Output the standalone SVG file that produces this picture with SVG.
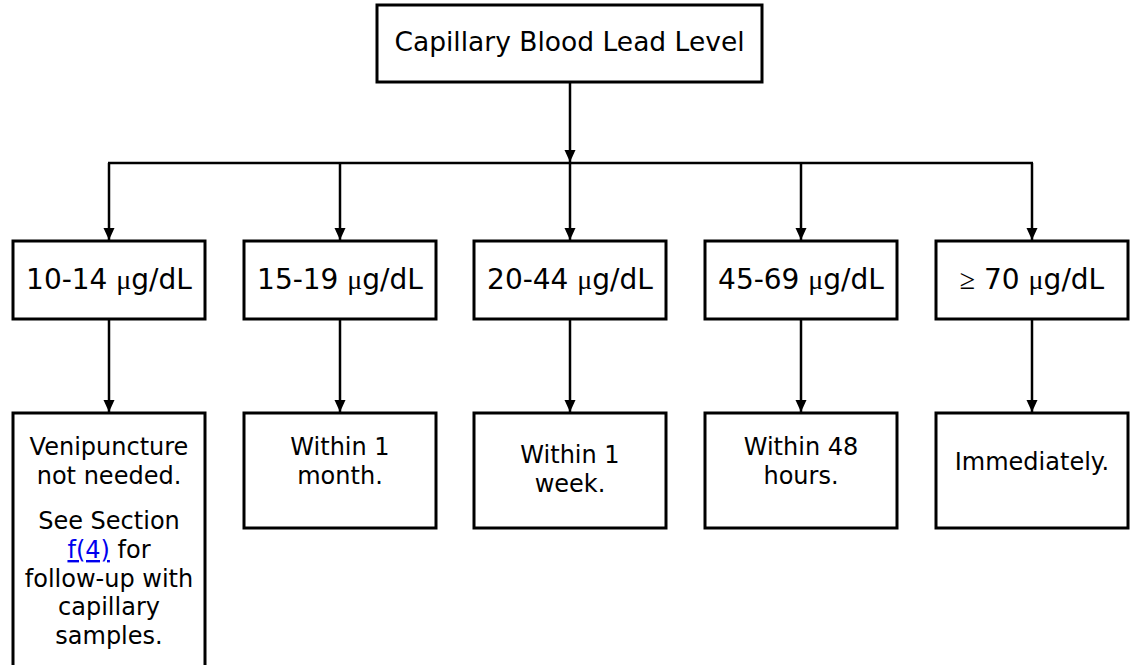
<svg xmlns="http://www.w3.org/2000/svg" width="1130" height="665" viewBox="0 0 1130 665">
<defs>
<style>
.box{fill:#fff;stroke:#000;stroke-width:3}
.t{font-family:"DejaVu Sans",Verdana,sans-serif;fill:#000;text-anchor:middle}
.top{font-size:26.5px}
.lvl{font-size:28px}
.mu{font-family:"Liberation Serif",serif}
.bot{font-size:24px}
.link{fill:#0000ee;text-decoration:underline}
.ln{stroke:#000;stroke-width:2.5;fill:none}
.arr{stroke:#000;stroke-width:2.5;fill:none;marker-end:url(#ah)}
</style>
<marker id="ah" markerUnits="userSpaceOnUse" markerWidth="12" markerHeight="12" refX="12" refY="6" orient="auto" viewBox="0 0 12 12">
<path d="M0,0.5 L12,6 L0,11.5 z" fill="#000"/>
</marker>
</defs>
<g id="connectors">
<line class="arr" x1="570" y1="82" x2="570" y2="162"/>
<line class="ln" x1="108" y1="163" x2="1033" y2="163"/>
<line class="arr" x1="109" y1="163" x2="109" y2="240"/>
<line class="arr" x1="340" y1="163" x2="340" y2="240"/>
<line class="arr" x1="570" y1="163" x2="570" y2="240"/>
<line class="arr" x1="801" y1="163" x2="801" y2="240"/>
<line class="arr" x1="1032" y1="163" x2="1032" y2="240"/>
<line class="arr" x1="109" y1="319" x2="109" y2="412"/>
<line class="arr" x1="340" y1="319" x2="340" y2="412"/>
<line class="arr" x1="570" y1="319" x2="570" y2="412"/>
<line class="arr" x1="801" y1="319" x2="801" y2="412"/>
<line class="arr" x1="1032" y1="319" x2="1032" y2="412"/>
</g>
<g id="root">
<rect class="box" x="377" y="5" width="385" height="77"/>
<text class="t top" x="569.5" y="51">Capillary Blood Lead Level</text>
</g>
<g id="lvl1">
<rect class="box" x="13" y="241" width="192" height="78"/>
<text class="t lvl" x="109" y="289">10-14 <tspan class="mu">μ</tspan>g/dL</text>
</g>
<g id="lvl2">
<rect class="box" x="244" y="241" width="192" height="78"/>
<text class="t lvl" x="340" y="289">15-19 <tspan class="mu">μ</tspan>g/dL</text>
</g>
<g id="lvl3">
<rect class="box" x="474" y="241" width="192" height="78"/>
<text class="t lvl" x="570" y="289">20-44 <tspan class="mu">μ</tspan>g/dL</text>
</g>
<g id="lvl4">
<rect class="box" x="705" y="241" width="192" height="78"/>
<text class="t lvl" x="801" y="289">45-69 <tspan class="mu">μ</tspan>g/dL</text>
</g>
<g id="lvl5">
<rect class="box" x="936" y="241" width="192" height="78"/>
<text class="t lvl" x="1032" y="289"><tspan class="mu">≥</tspan> 70 <tspan class="mu">μ</tspan>g/dL</text>
</g>
<g id="act1">
<rect class="box" x="13" y="413" width="192" height="270"/>
<text class="t bot" x="109" y="455">Venipuncture</text>
<text class="t bot" x="109" y="484">not needed.</text>
<text class="t bot" x="109" y="529">See Section</text>
<text class="t bot" x="109" y="558"><tspan class="link">f(4)</tspan> for</text>
<text class="t bot" x="109" y="587">follow-up with</text>
<text class="t bot" x="109" y="615">capillary</text>
<text class="t bot" x="109" y="644">samples.</text>
</g>
<g id="act2">
<rect class="box" x="244" y="413" width="192" height="115"/>
<text class="t bot" x="340" y="455">Within 1</text>
<text class="t bot" x="340" y="484">month.</text>
</g>
<g id="act3">
<rect class="box" x="474" y="413" width="192" height="115"/>
<text class="t bot" x="570" y="463">Within 1</text>
<text class="t bot" x="570" y="492">week.</text>
</g>
<g id="act4">
<rect class="box" x="705" y="413" width="192" height="115"/>
<text class="t bot" x="801" y="455">Within 48</text>
<text class="t bot" x="801" y="484">hours.</text>
</g>
<g id="act5">
<rect class="box" x="936" y="413" width="192" height="115"/>
<text class="t bot" x="1032" y="470">Immediately.</text>
</g>
</svg>
